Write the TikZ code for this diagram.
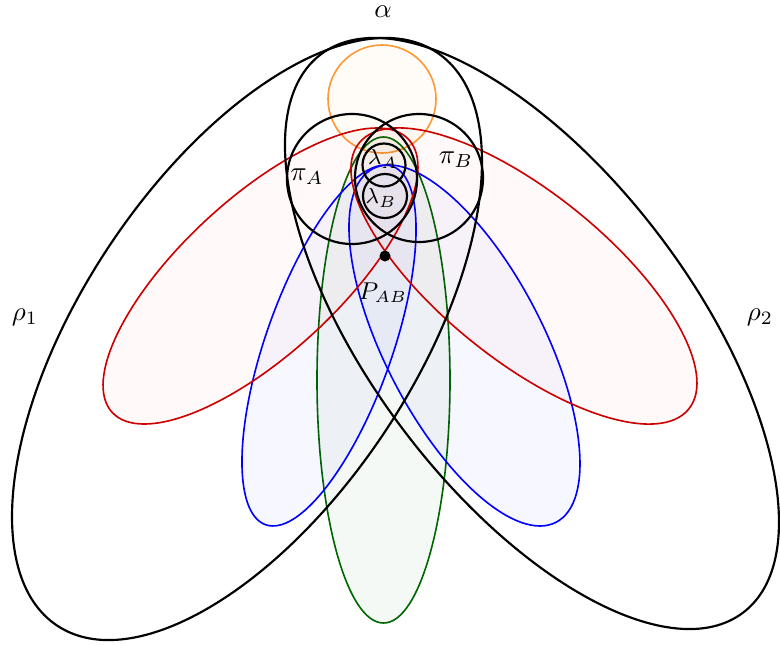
\documentclass[tikz,border=0pt]{standalone}
\begin{document}
\begin{tikzpicture}[x=0.37pt,y=0.37pt,
  blk/.style={draw=black,thick},
  redc/.style={draw=red!80!black,semithick,fill=red!70!brown,fill opacity=0.025,draw opacity=1},
  bluec/.style={draw=blue,semithick,fill=blue,fill opacity=0.03,draw opacity=1},
  greenc/.style={draw=green!40!black,semithick,fill=green!40!black,fill opacity=0.04,draw opacity=1},
  orangec/.style={draw=orange!80,semithick,fill=orange!80,fill opacity=0.04,draw opacity=1},
  lbl/.style={inner sep=0pt}]
\useasboundingbox (0,0) rectangle (780,644);
% centres
\coordinate (cRL) at (260.5,368);
\coordinate (cRR) at (524,368);
\coordinate (cBL) at (329,298.5);
\coordinate (cBR) at (464.5,298.5);
\coordinate (cG) at (383.5,264);
\coordinate (cO) at (382,545);
\coordinate (cP1) at (247,305);
\coordinate (cP2) at (532,310.5);
\coordinate (cPiA) at (352,465);
\coordinate (cPiB) at (419,466);
\coordinate (cLA) at (384,479);
\coordinate (cLB) at (385,448);
\coordinate (PAB) at (385,388);
% filled coloured shapes
\path[orangec] (cO) circle [radius=54];
\path[greenc] (cG) ellipse [x radius=66.5, y radius=243];
\path[bluec,rotate around={70.5:(cBL)}] (cBL) ellipse [x radius=190.1, y radius=63.2];
\path[bluec,rotate around={-62.6:(cBR)}] (cBR) ellipse [x radius=199.1, y radius=79.2];
\path[redc,rotate around={42.6:(cRL)}] (cRL) ellipse [x radius=201.5, y radius=78];
\path[redc,rotate around={-38.9:(cRR)}] (cRR) ellipse [x radius=211.8, y radius=83.6];
% black shapes
\draw[blk,rotate around={56.5:(cP1)}] (cP1) ellipse [x radius=343.8, y radius=166.2];
\draw[blk,rotate around={-52.9:(cP2)}] (cP2) ellipse [x radius=350, y radius=160.7];
\draw[blk] (cPiA) circle [radius=65];
\draw[blk] (cPiB) circle [radius=64];
\draw[blk] (cLA) circle [radius=21.5];
\draw[blk] (cLB) circle [radius=22];
\fill[black] (PAB) circle [radius=5.5];
% labels
\node[lbl] (alpha) at (383,632) {$\alpha$};
\node[lbl] (rho1) at (25,327) {$\rho_1$};
\node[lbl] (rho2) at (760,327) {$\rho_2$};
\node[lbl] (piA) at (307,467) {$\pi_A$};
\node[lbl] (piB) at (456,484) {$\pi_B$};
\node[lbl,font=\footnotesize] (lamA) at (383,485) {$\lambda_A$};
\node[lbl,font=\footnotesize] (lamB) at (381,446) {$\lambda_B$};
\node[lbl,font=\small] (pab) at (383,351) {$P_{AB}$};
\end{tikzpicture}
\end{document}
